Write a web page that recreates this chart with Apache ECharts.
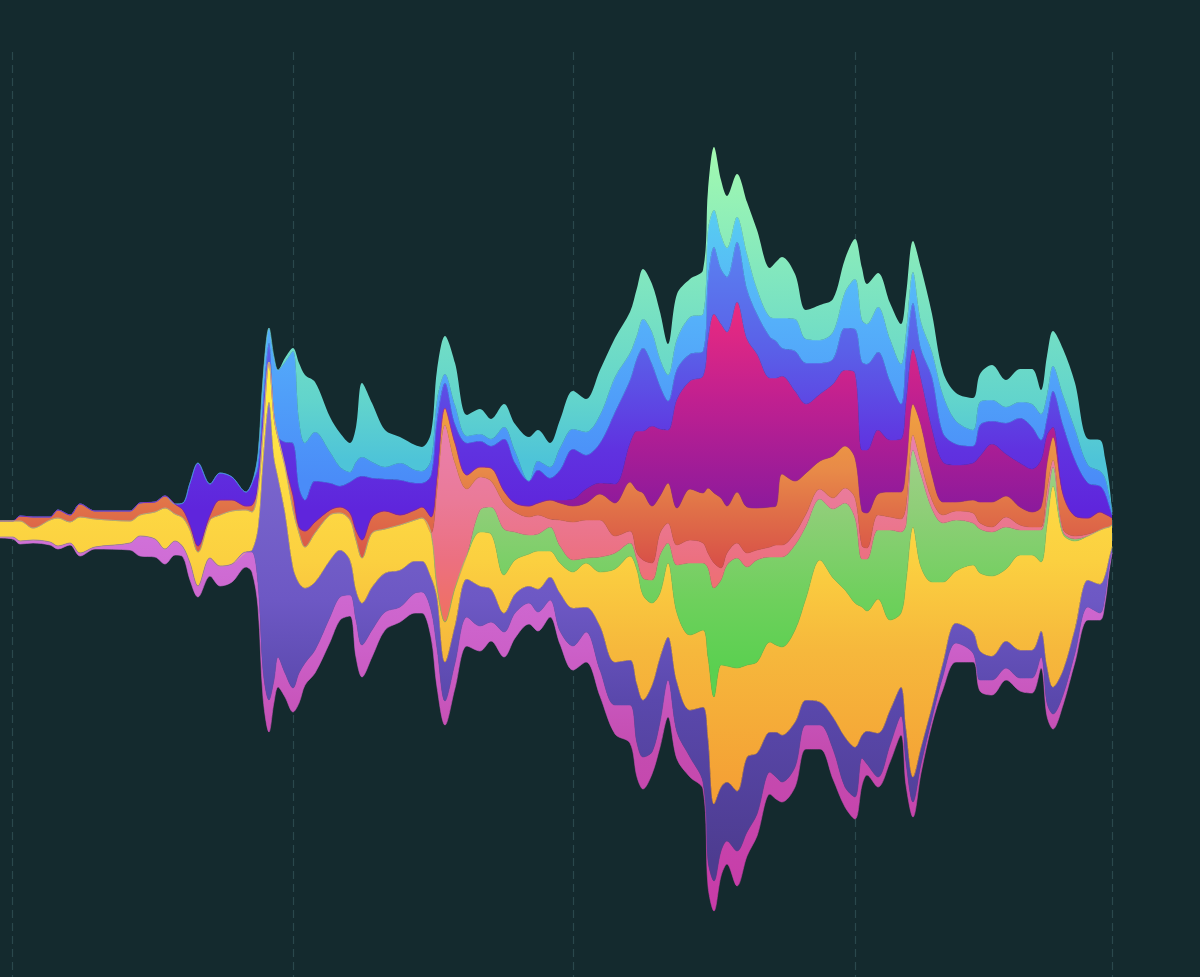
<!DOCTYPE html>
<html>
<head>
<meta charset="utf-8">
<style>html,body{margin:0;padding:0;background:#142a2e}#c{width:1200px;height:977px}</style>
<script src="https://cdn.jsdelivr.net/npm/echarts@6/dist/echarts.min.js"></script>
</head>
<body>
<div id="c"></div>
<script>
const xValues=[0,13,20,33,50,58,70,80,95,130,140,155,165,175,183,190,198,210,220,232,246,252,258,263,269,274,278,285,293,299,305,315,330,340,350,356,362,372,385,400,415,422,431,437,445,455,467,480,491,504,515,529,538,550,560,573,586,600,615,630,637,643,652,660,668,677,690,703,708,714,721,727,737,747,757,770,776,782,795,806,820,833,845,855,862,867,878,890,901,906,913,921,932,943,956,973,980,992,1006,1020,1032,1041,1047,1053,1063,1075,1088,1100,1105,1109,1112];
const tickValues=[12,293,573,855,1112];
const HOUR=3600000;

const leadTop=[521,521,516,517,517,510,515,504,511,511,503,502,496,504,503,483,463,484,473,477,492,483];
const leadOrangeTop=[521,521,516,517,517,510,515,504,511,511,503,502,496,504,510,525,546,515,500,500,506,505];
const leadYellowTop=[521,521,521,528,520,518,522,517,519,521,515,512,508,514,518,530,552,520,515,511,510,512];
const leadYellowBottom=[537,537,541,540,542,546,543,553,547,543,536,539,549,541,547,563,586,558,566,564,552,550];
const leadPurpleBottom=[537,537,541,540,542,546,543,553,547,543,536,539,549,541,547,563,586,558,566,564,552,552];
const leadBottom=[538,539,544,543,545,549,545,556,549,550,556,557,564,555,557,580,597,576,586,582,567,572];

const tealTop=leadTop.concat([453,377,328,357,370,358,348,363,375,382,417,433,443,427,383,403,430,437,445,447,433,370,336,363,415,409,419,404,424,437,430,443,420,391,399,370,338,312,288,269,284,312,344,294,279,270,190,147,180,196,174,202,230,268,262,257,274,310,305,299,259,239,268,284,273,303,324,295,241,268,314,372,393,398,374,365,380,369,369,390,356,331,349,383,439,440,458,482,510]);
const skyTop=leadTop.concat([455,379,328,357,370,362,351,420,443,432,452,467,472,462,457,462,467,463,470,471,460,400,374,405,436,434,439,427,451,481,461,467,448,429,432,415,377,353,335,319,332,359,375,339,317,314,230,210,235,248,217,254,289,317,318,318,319,339,340,332,292,279,320,324,307,339,364,333,272,322,352,395,421,430,402,400,407,402,404,414,395,366,395,429,465,471,478,494,512]);
const indigoTop=leadTop.concat([467,403,343,413,437,442,443,487,500,481,483,486,482,478,476,478,479,480,483,483,475,420,383,424,443,441,446,439,463,481,470,478,470,449,455,443,412,380,358,348,364,386,401,369,354,351,279,247,269,277,242,289,314,337,341,348,351,363,363,359,328,329,362,364,352,381,404,356,303,349,377,433,444,446,425,421,423,418,427,440,418,391,425,460,483,486,493,505,515]);
const magentaTop=leadOrangeTop.concat([487,427,362,417,437,465,495,527,531,522,510,507,513,530,540,517,511,515,510,507,517,477,408,443,475,467,468,491,503,506,503,500,500,499,489,483,484,443,431,431,426,429,430,399,381,376,339,314,324,332,302,339,354,378,378,376,391,404,394,384,370,373,450,450,430,440,439,402,349,379,429,462,465,463,456,444,454,463,469,460,435,427,494,516,518,512,514,516,518]);
const orangeTop=leadOrangeTop.concat([487,427,362,417,437,465,495,527,531,522,510,507,513,530,540,517,511,515,510,507,517,477,408,443,475,467,468,491,503,506,503,500,503,506,503,494,503,482,490,493,506,496,483,508,489,493,488,493,498,506,492,507,508,507,506,474,481,473,461,456,446,458,511,513,494,492,492,467,404,425,475,502,502,500,502,502,496,507,512,507,463,437,494,516,518,512,514,516,518]);
const pinkTop=leadYellowTop.concat([490,433,362,417,437,465,510,533,547,533,515,513,520,540,558,533,529,525,520,518,533,490,425,463,489,477,481,503,512,517,515,519,520,522,520,520,536,531,553,560,563,533,523,545,540,543,553,563,568,553,543,553,550,547,545,545,533,514,489,498,488,498,546,548,515,517,519,506,435,463,500,515,511,513,523,527,517,525,527,527,490,460,529,536,534,530,528,527,525]);
const greenTop=leadYellowTop.concat([490,433,362,417,437,467,510,533,547,533,515,513,520,540,558,533,529,525,520,518,533,587,622,588,555,510,507,529,532,535,534,527,546,560,558,557,553,543,560,578,580,555,543,565,563,563,568,588,580,565,558,567,560,557,557,557,545,526,499,509,503,518,559,559,530,530,532,525,450,475,509,523,520,523,529,532,527,530,530,530,502,467,532,539,536,530,528,527,525]);
const yellowTop=leadYellowTop.concat([490,433,362,417,437,467,510,533,547,533,515,513,520,540,558,533,529,525,520,518,533,587,622,588,555,532,534,575,560,554,551,551,563,572,563,572,569,556,570,595,603,593,563,613,635,630,657,697,665,666,668,665,662,642,645,647,630,598,560,578,590,603,607,611,599,620,613,582,527,567,582,582,571,565,573,576,569,555,555,562,525,486,534,541,536,530,528,527,525]);
const purpleTop=leadYellowBottom.concat([527,460,402,457,477,512,567,583,588,582,560,550,560,590,603,587,573,570,561,561,577,597,662,625,579,586,589,613,594,586,589,577,593,608,607,626,662,660,684,700,685,657,637,682,710,707,737,804,787,782,791,757,753,732,732,735,722,700,702,717,737,747,735,731,733,710,687,728,777,747,706,662,623,632,651,656,641,650,650,631,666,687,670,628,580,584,575,558,547]);
const orchidTop=leadPurpleBottom.concat([583,670,700,680,657,673,688,673,663,650,617,597,595,620,645,630,612,607,593,592,610,648,701,663,617,626,622,632,613,603,612,600,631,646,632,670,705,705,743,757,752,722,680,732,757,782,861,881,851,841,851,832,814,772,777,782,767,725,725,749,787,797,758,764,777,745,716,762,802,764,718,676,643,653,680,680,668,678,678,657,703,714,695,653,607,613,597,568,552]);
const orchidBottom=leadBottom.concat([607,697,732,702,687,697,712,703,685,673,642,620,616,657,677,657,630,622,613,613,637,687,725,688,646,651,641,657,638,624,631,617,644,670,662,696,734,743,777,789,774,747,717,759,777,789,886,911,876,864,886,856,836,794,799,802,787,749,749,779,807,819,785,775,787,762,735,785,817,773,724,689,662,662,691,695,680,691,693,668,716,729,705,662,620,620,603,572,553]);

const bands=[
 {name:'teal',edge:tealTop,stops:[[150,'#a2f9b0'],[280,'#80e6bf'],[400,'#62d4cc'],[460,'#4ec4d8']]},
 {name:'sky',edge:skyTop,stops:[[200,'#58d0f0'],[320,'#55b0fa'],[480,'#4a8cf8']]},
 {name:'indigo',edge:indigoTop,stops:[[250,'#5a80f0'],[350,'#5a60e8'],[450,'#6032e0'],[510,'#5f25dc']]},
 {name:'magenta',edge:magentaTop,stops:[[310,'#e82a80'],[400,'#c02090'],[510,'#8c1a9c']]},
 {name:'orange',edge:orangeTop,stops:[[410,'#f0a040'],[470,'#e88a48'],[510,'#e07048'],[565,'#d85048']]},
 {name:'pink',edge:pinkTop,stops:[[420,'#ea80b0'],[500,'#ea7a98'],[560,'#ec7080'],[620,'#f07060']]},
 {name:'green',edge:greenTop,stops:[[450,'#a0d088'],[510,'#8fce78'],[600,'#6ed05c'],[670,'#5ad050']]},
 {name:'yellow',edge:yellowTop,stops:[[370,'#fff040'],[450,'#ffe045'],[560,'#fbd040'],[650,'#f6b83c'],[790,'#f4a035']]},
 {name:'purple',edge:purpleTop,stops:[[420,'#7e6ad0'],[600,'#6d58c4'],[700,'#5a48ac'],[860,'#4d3c90']]},
 {name:'orchid',edge:orchidTop,stops:[[540,'#d070d8'],[650,'#cc60c8'],[750,'#c44cb0'],[900,'#c83ca8']]}
];
const nextEdges=bands.map((b,i)=>i<bands.length-1?bands[i+1].edge:orchidBottom);
bands.forEach(b=>{if(b.edge.length!==xValues.length)throw new Error(b.name+' length '+b.edge.length+' vs '+xValues.length)});
if(orchidBottom.length!==xValues.length)throw new Error('bottom length '+orchidBottom.length);

function grad(stops){
  const y0=stops[0][0],y1=stops[stops.length-1][0];
  return new echarts.graphic.LinearGradient(0,y0,0,y1,stops.map(s=>({offset:(s[0]-y0)/(y1-y0),color:s[1]})),true);
}
const SMOOTH=0.33;
const series=[{
  type:'line',stack:'s',name:'base',silent:true,showSymbol:false,smooth:SMOOTH,z:1,
  lineStyle:{width:0},data:xValues.map((x,i)=>[x*HOUR,tealTop[i]]),
  markLine:{silent:true,symbol:'none',label:{show:false},animation:false,z:1,
    lineStyle:{color:'#2a484c',type:[8,5],width:1.2},
    data:tickValues.map(t=>[{coord:[t*HOUR,52]},{coord:[t*HOUR,977]}])}
}];
bands.forEach((b,k)=>{
  const g=grad(b.stops);
  series.push({
    type:'line',stack:'s',name:b.name,silent:true,showSymbol:false,smooth:SMOOTH,z:5,
    lineStyle:{width:0.6,color:g},areaStyle:{color:g,opacity:1},
    data:xValues.map((x,i)=>[x*HOUR,Math.max(0,nextEdges[k][i]-b.edge[i])])
  });
});
const chart=echarts.init(document.getElementById('c'),null,{renderer:'canvas'});
chart.setOption({
  animation:false,backgroundColor:'#142a2e',
  grid:{left:0,right:0,top:0,bottom:0},
  xAxis:{type:'time',min:0,max:1200*HOUR,show:false},
  yAxis:{type:'value',min:0,max:977,inverse:true,show:false},
  tooltip:{show:false},
  series
});
</script>
</body>
</html>
